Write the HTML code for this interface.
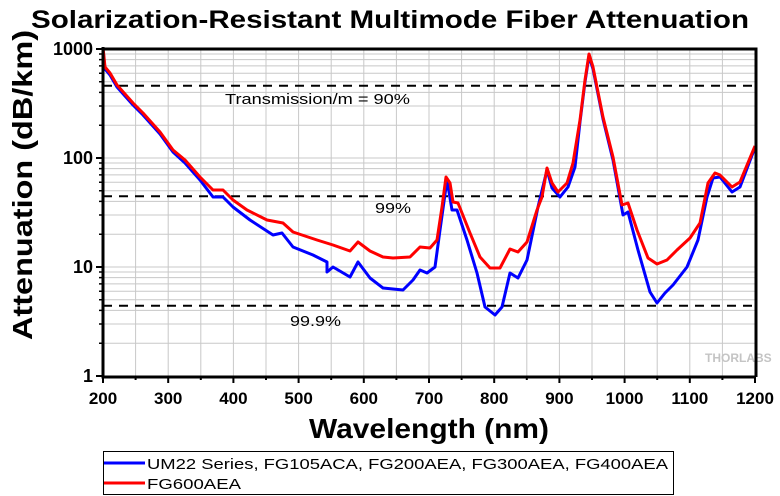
<!DOCTYPE html>
<html><head><meta charset="utf-8"><style>
body{margin:0;background:#fff;}
svg{display:block;font-family:"Liberation Sans",Arial,sans-serif;}
</style></head><body>
<svg width="780" height="496" viewBox="0 0 780 496" xmlns="http://www.w3.org/2000/svg">
<rect width="780" height="496" fill="#fff"/>
<text x="31" y="28" font-size="25" font-weight="bold" textLength="718" lengthAdjust="spacingAndGlyphs">Solarization-Resistant Multimode Fiber Attenuation</text>
<g stroke="#c8c8c8" stroke-width="1">
<path d="M103 343.2H755M103 324H755M103 310.4H755M103 299.8H755M103 291.2H755M103 283.9H755M103 277.6H755M103 272H755M103 267H755
M103 234.2H755M103 215H755M103 201.4H755M103 190.8H755M103 182.2H755M103 174.9H755M103 168.6H755M103 163H755M103 158H755
M103 125.2H755M103 106H755M103 92.4H755M103 81.8H755M103 73.2H755M103 65.9H755M103 59.6H755M103 54H755"/>
<path d="M135.6 49V376M168.2 49V376M200.8 49V376M233.4 49V376M266 49V376M298.6 49V376M331.2 49V376M363.8 49V376M396.4 49V376M429 49V376M461.6 49V376M494.2 49V376M526.8 49V376M559.4 49V376M592 49V376M624.6 49V376M657.2 49V376M689.8 49V376M722.4 49V376"/>
</g>
<g stroke="#000" stroke-width="2" stroke-dasharray="9,7">
<path d="M103 85.7H755M103 196.3H755M103 305.7H755"/>
</g>
<g font-size="15" fill="#000">
<text x="225" y="104" textLength="185" lengthAdjust="spacingAndGlyphs">Transmission/m = 90%</text>
<text x="375" y="213" textLength="36" lengthAdjust="spacingAndGlyphs">99%</text>
<text x="290" y="326" textLength="51" lengthAdjust="spacingAndGlyphs">99.9%</text>
</g>
<text x="705" y="362" font-size="12" font-weight="bold" fill="#c4c4c4">THORLABS</text>
<polyline fill="none" stroke="#0000ff" stroke-width="3" stroke-linejoin="round" points="103.3,52 105,69 110,75 117,87 133,105 143,115 160,134 173,152 185,163 200,180 213,197 223,197 233,207 250,220 273,235 282,233 293,247 313,255 327,262 327,272 333,267 350,277 358,262 370,278 383,288 403,290 413,280 420,270 427,273 435,267 440,230 447,180 452,210 457,210 467,240 477,273 485,307 495,315 502,307 510,273 518,278 527,260 538,207 547,170 552,188 560,197 568,187 575,167 580,122 585,82 589,56 593,69 603,119 613,160 623,215 628,212 638,250 650,292 657,303 665,293 673,285 687,267 698,240 707,197 713,178 720,177 732,192 740,187 754,150"/>
<polyline fill="none" stroke="#ff0000" stroke-width="3" stroke-linejoin="round" points="103.3,50 105,67 110,73 117,85 133,103 143,113 160,132 173,150 185,160 200,177 213,190 223,190 233,200 247,210 267,220 283,223 293,232 317,240 333,245 350,251 358,242 370,251 383,257 393,258 410,257 420,247 430,248 437,240 442,207 446,177 450,183 453,202 458,203 470,233 480,257 490,268 500,268 510,249 518,252 527,242 537,210 542,197 547,168 552,183 558,192 567,183 573,163 580,120 585,80 589,54 593,67 603,117 613,157 622,205 628,203 637,230 648,258 657,264 667,260 677,250 690,238 700,223 708,183 715,173 720,175 732,187 740,182 755,146"/>
<g stroke="#000" fill="none">
<path d="M103 49H756V377" stroke-width="3"/>
<path d="M103 47V377H756" stroke-width="3"/>
<path d="M103 376v7M135.6 376v4M168.2 376v7M200.8 376v4M233.4 376v7M266 376v4M298.6 376v7M331.2 376v4M363.8 376v7M396.4 376v4M429 376v7M461.6 376v4M494.2 376v7M526.8 376v4M559.4 376v7M592 376v4M624.6 376v7M657.2 376v4M689.8 376v7M722.4 376v4M755 376v7" stroke-width="2"/>
<path d="M96 49h7M96 158h7M96 267h7M96 376h7" stroke-width="2"/>
<path d="M99 343.2h4M99 324h4M99 310.4h4M99 299.8h4M99 291.2h4M99 283.9h4M99 277.6h4M99 272h4M99 234.2h4M99 215h4M99 201.4h4M99 190.8h4M99 182.2h4M99 174.9h4M99 168.6h4M99 163h4M99 125.2h4M99 106h4M99 92.4h4M99 81.8h4M99 73.2h4M99 65.9h4M99 59.6h4M99 54h4" stroke-width="1.5"/>
</g>
<g font-size="18" font-weight="bold" text-anchor="end">
<text x="93" y="55">1000</text><text x="93" y="164">100</text><text x="93" y="273">10</text><text x="93" y="382">1</text>
</g>
<g font-size="17" font-weight="bold" text-anchor="middle">
<text x="103" y="404">200</text><text x="168.2" y="404">300</text><text x="233.4" y="404">400</text><text x="298.6" y="404">500</text><text x="363.8" y="404">600</text><text x="429" y="404">700</text><text x="494.2" y="404">800</text><text x="559.4" y="404">900</text><text x="624.6" y="404">1000</text><text x="689.8" y="404">1100</text><text x="755" y="404">1200</text>
</g>
<text x="309" y="438" font-size="28" font-weight="bold" textLength="240" lengthAdjust="spacingAndGlyphs">Wavelength (nm)</text>
<text transform="translate(32,340) rotate(-90)" font-size="28" font-weight="bold" textLength="310" lengthAdjust="spacingAndGlyphs">Attenuation (dB/km)</text>
<rect x="103.5" y="451.5" width="570" height="43" fill="#fff" stroke="#000" stroke-width="1"/>
<path d="M104 463H145" stroke="#0000ff" stroke-width="3"/>
<path d="M104 483H145" stroke="#ff0000" stroke-width="3"/>
<g font-size="15">
<text x="147" y="469" textLength="521" lengthAdjust="spacingAndGlyphs">UM22 Series, FG105ACA, FG200AEA, FG300AEA, FG400AEA</text>
<text x="147" y="489" textLength="94" lengthAdjust="spacingAndGlyphs">FG600AEA</text>
</g>
</svg>
</body></html>
